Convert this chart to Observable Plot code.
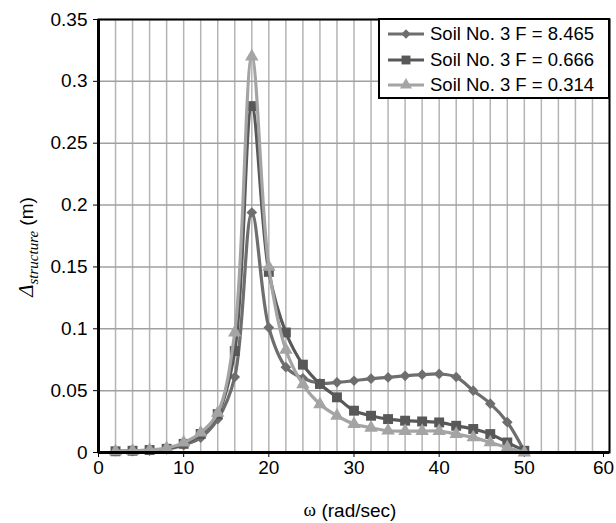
<!DOCTYPE html>
<html><head><meta charset="utf-8">
<script src="https://cdn.jsdelivr.net/npm/d3@7"></script>
<script src="https://cdn.jsdelivr.net/npm/@observablehq/plot@0.6"></script>
<style>
body{margin:0;background:#fff;}
#wrap{position:relative;width:616px;height:523px;font-family:'Liberation Sans',Arial,sans-serif;}
#legend{position:absolute;left:378px;top:18px;width:228px;height:77px;border:2px solid #000;background:#fff;}
#legend .row{position:absolute;left:0;height:26px;display:flex;align-items:center;}
#legend svg{margin-left:8px;margin-right:6px;}
#legend span{font-size:18.5px;color:#000;white-space:nowrap;}
</style>
</head><body><div id="wrap"><div id="legend"></div></div>
<script>
const omega = [2,4,6,8,10,12,14,16,18,20,22,24,26,28,30,32,34,36,38,40,42,44,46,48,50];
const seriesNames = ["Soil No. 3 F = 8.465","Soil No. 3 F = 0.666","Soil No. 3 F = 0.314"];
const valsF8465 = [0.001,0.001,0.0015,0.0025,0.006,0.012,0.027,0.061,0.194,0.101,0.069,0.060,0.056,0.0567,0.058,0.0597,0.0607,0.062,0.0629,0.0635,0.061,0.050,0.0395,0.0245,0.001];
const valsF0666 = [0.001,0.0014,0.002,0.003,0.007,0.015,0.031,0.082,0.280,0.146,0.097,0.071,0.0554,0.0446,0.0338,0.0297,0.027,0.0257,0.0251,0.0243,0.0216,0.019,0.0149,0.0081,0.0014];
const valsF0314 = [0.001,0.0014,0.002,0.0035,0.008,0.016,0.032,0.097,0.320,0.150,0.083,0.055,0.039,0.0297,0.023,0.020,0.0176,0.0173,0.0173,0.0173,0.0149,0.0122,0.0081,0.004,0.0];
const xTicks = [0,10,20,30,40,50];
const xLastTick = [60];
const xGrid = [0,2,4,6,8,10,12,14,16,18,20,22,24,26,28,30,32,34,36,38,40,42,44,46,48,50,52,54,56,58,60];
const yTicks = [0,0.05,0.1,0.15,0.2,0.25,0.3,0.35];
const yTickLabels = ["0","0.05","0.1","0.15","0.2","0.25","0.3","0.35"];

const allVals = [valsF8465, valsF0666, valsF0314];
const colors = ["#6e6e6e","#585858","#a4a4a4"];
const symbols = ["diamond2","square","triangle"];
const radii = [4.8,5.6,5];

const seriesData = allVals.map((vals,i)=>omega.map((w,j)=>({series:seriesNames[i], w, v:vals[j]})));

const seriesMarks = [];
seriesData.forEach((d,i)=>{
  seriesMarks.push(Plot.line(d,{x:"w",y:"v",stroke:colors[i],strokeWidth:3.2,curve:"catmull-rom"}));
  seriesMarks.push(Plot.dot(d,{x:"w",y:"v",symbol:symbols[i],fill:colors[i],r:radii[i]}));
});

const plot = Plot.plot({
  width:616, height:523,
  marginLeft:98, marginRight:7, marginTop:19, marginBottom:71,
  x:{domain:[0,60]},
  y:{domain:[0,0.35]},
  style:{fontFamily:"'Liberation Sans',Arial,sans-serif",fontSize:"19px",color:"#000",background:"#fff"},
  marks:[
    Plot.gridX(xGrid,{stroke:"#b4b4b4",strokeOpacity:1,strokeWidth:1.5}),
    Plot.gridY(yTicks,{stroke:"#a0a0a0",strokeOpacity:1,strokeWidth:1.5}),
    Plot.frame({stroke:"#000",strokeWidth:2}),
    Plot.axisX(xTicks,{tickSize:5,tickPadding:3,label:null}),
    Plot.axisX(xLastTick,{tickSize:5,tickPadding:3,label:null,dx:-6}),
    Plot.axisY(yTicks,{tickSize:5,tickPadding:6,label:null,tickFormat:d=>yTickLabels[yTicks.indexOf(d)]}),
    ...seriesMarks,
    Plot.ruleX([0],{stroke:"#000",strokeWidth:3}),
    Plot.ruleY([0],{stroke:"#000",strokeWidth:3})
  ]
});
document.getElementById("wrap").prepend(plot);

const svg = d3.select(plot);
const xl = svg.append("text").attr("x",350).attr("y",512).attr("text-anchor","middle")
  .attr("dominant-baseline","middle").attr("fill","#000").style("font-size","19px");
xl.append("tspan").style("font-family","'Liberation Serif','Times New Roman',serif").text("ω");
xl.append("tspan").style("font-family","'Liberation Sans',Arial,sans-serif").text(" (rad/sec)");

const yl = svg.append("text").attr("transform","translate(33,247) rotate(-90)").attr("text-anchor","middle")
  .attr("fill","#000");
yl.append("tspan").style("font-family","'Liberation Serif','Times New Roman',serif").style("font-style","italic").style("font-size","21px").text("Δ");
yl.append("tspan").attr("dy",5).style("font-family","'Liberation Serif','Times New Roman',serif").style("font-style","italic").style("font-size","15px").text("structure");
yl.append("tspan").attr("dy",-5).style("font-family","'Liberation Sans',Arial,sans-serif").style("font-size","19px").text(" (m)");

// legend
const legend = document.getElementById("legend");
seriesNames.forEach((name,i)=>{
  const row = document.createElement("div");
  row.className="row";
  row.style.top = (1 + i*25.5) + "px";
  const s = d3.create("svg").attr("width",36).attr("height",14);
  s.append("line").attr("x1",0).attr("x2",36).attr("y1",7).attr("y2",7).attr("stroke",colors[i]).attr("stroke-width",3);
  s.append("path").attr("transform","translate(18,7)")
    .attr("d", d3.symbol(i===0?d3.symbolDiamond2:i===1?d3.symbolSquare:d3.symbolTriangle, Math.PI*radii[i]*radii[i]*0.8)())
    .attr("fill",colors[i]);
  row.appendChild(s.node());
  const t = document.createElement("span");
  t.textContent = name;
  row.appendChild(t);
  legend.appendChild(row);
});
</script>
</body></html>
